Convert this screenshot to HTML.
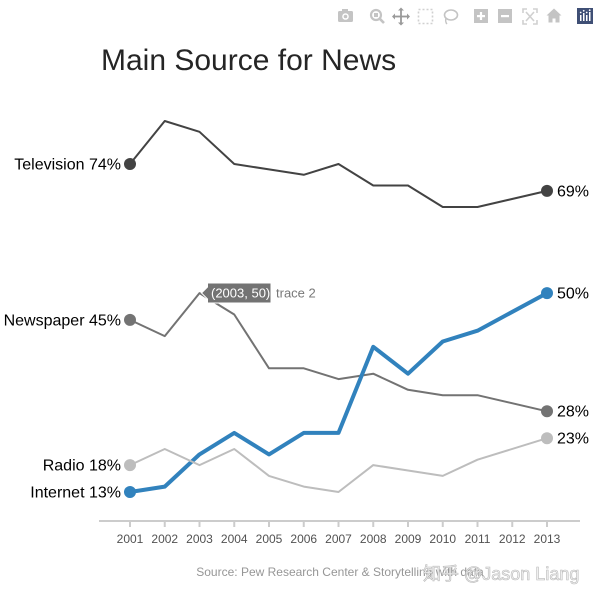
<!DOCTYPE html>
<html>
<head>
<meta charset="utf-8">
<style>
html,body{margin:0;padding:0;background:#fff;}
svg{display:block;}
text{font-family:"Liberation Sans",Arial,"Noto Sans CJK SC",sans-serif;}
</style>
</head>
<body>
<svg width="600" height="601" viewBox="0 0 600 601" xmlns="http://www.w3.org/2000/svg">
  <rect width="600" height="601" fill="#fff"/>

  <!-- modebar -->
  <g fill="#c4c4c4" stroke="none">
    <!-- camera -->
    <rect x="338" y="11" width="15" height="11" rx="1.5"/>
    <rect x="342" y="9" width="6" height="3"/>
    <circle cx="345.5" cy="16.5" r="3.3" fill="#fff"/>
    <circle cx="345.5" cy="16.5" r="1.8"/>
    <!-- zoom -->
    <circle cx="376" cy="15" r="5" fill="none" stroke="#c4c4c4" stroke-width="2.2"/>
    <rect x="374" y="13" width="4" height="4"/>
    <line x1="379.5" y1="18.5" x2="384" y2="23" stroke="#c4c4c4" stroke-width="2.6"/>
    <!-- pan -->
    <g stroke="#9a9a9a" stroke-width="1.8">
      <line x1="401" y1="9" x2="401" y2="24"/>
      <line x1="393.5" y1="16.5" x2="408.5" y2="16.5"/>
    </g>
    <path d="M401 7.5l-3 3h6z M401 25.5l-3-3h6z M392 16.5l3-3v6z M410 16.5l-3-3v6z" fill="#9a9a9a"/>
    <!-- box select -->
    <rect x="418.5" y="9.5" width="14" height="14" fill="none" stroke="#d0d0d0" stroke-width="1.6" stroke-dasharray="2,2"/>
    <!-- lasso -->
    <ellipse cx="451" cy="15" rx="6.5" ry="5" fill="none" stroke="#c4c4c4" stroke-width="1.6"/>
    <path d="M446 18 q-1 4 1 6" fill="none" stroke="#c4c4c4" stroke-width="1.4"/>
    <!-- zoom in -->
    <rect x="474" y="9" width="14" height="14"/>
    <rect x="477" y="15" width="8" height="2.2" fill="#fff"/>
    <rect x="479.9" y="12" width="2.2" height="8" fill="#fff"/>
    <!-- zoom out -->
    <rect x="498" y="9" width="14" height="14"/>
    <rect x="501" y="15" width="8" height="2.2" fill="#fff"/>
    <!-- autoscale -->
    <g fill="none" stroke="#d0d0d0" stroke-width="1.6">
      <path d="M523 13v-4h4 M533 9h4v4 M537 20v4h-4 M527 24h-4v-4"/>
      <path d="M526 12l8 9 M534 12l-8 9"/>
    </g>
    <!-- home -->
    <path d="M554 8.5l-7.5 7h2v7h4v-4h3v4h4v-7h2z"/>
    <!-- plotly logo -->
    <rect x="577" y="8" width="16" height="16" fill="#3f4f75"/>
    <g fill="#fff">
      <rect x="580" y="15" width="1.5" height="6"/>
      <rect x="583" y="13" width="1.5" height="8"/>
      <rect x="586" y="15" width="1.5" height="6"/>
      <rect x="589" y="12" width="1.5" height="9"/>
      <circle cx="580.7" cy="12.5" r="0.9"/>
      <circle cx="583.7" cy="10.8" r="0.9"/>
      <circle cx="586.7" cy="12.5" r="0.9"/>
      <circle cx="589.7" cy="10.2" r="0.9"/>
    </g>
  </g>

  <!-- title -->
  <text x="101" y="70" font-size="30" fill="rgb(37,37,37)">Main Source for News</text>

  <!-- x axis -->
  <line x1="99" y1="521" x2="580" y2="521" stroke="rgb(204,204,204)" stroke-width="2"/>
  <g stroke="rgb(204,204,204)" stroke-width="2">
    <line x1="130" y1="521" x2="130" y2="527"/>
    <line x1="164.75" y1="521" x2="164.75" y2="527"/>
    <line x1="199.5" y1="521" x2="199.5" y2="527"/>
    <line x1="234.25" y1="521" x2="234.25" y2="527"/>
    <line x1="269" y1="521" x2="269" y2="527"/>
    <line x1="303.75" y1="521" x2="303.75" y2="527"/>
    <line x1="338.5" y1="521" x2="338.5" y2="527"/>
    <line x1="373.25" y1="521" x2="373.25" y2="527"/>
    <line x1="408" y1="521" x2="408" y2="527"/>
    <line x1="442.75" y1="521" x2="442.75" y2="527"/>
    <line x1="477.5" y1="521" x2="477.5" y2="527"/>
    <line x1="512.25" y1="521" x2="512.25" y2="527"/>
    <line x1="547" y1="521" x2="547" y2="527"/>
  </g>
  <g font-size="12" fill="rgb(82,82,82)" text-anchor="middle">
    <text x="130" y="543">2001</text>
    <text x="164.75" y="543">2002</text>
    <text x="199.5" y="543">2003</text>
    <text x="234.25" y="543">2004</text>
    <text x="269" y="543">2005</text>
    <text x="303.75" y="543">2006</text>
    <text x="338.5" y="543">2007</text>
    <text x="373.25" y="543">2008</text>
    <text x="408" y="543">2009</text>
    <text x="442.75" y="543">2010</text>
    <text x="477.5" y="543">2011</text>
    <text x="512.25" y="543">2012</text>
    <text x="547" y="543">2013</text>
  </g>

  <!-- Television -->
  <polyline fill="none" stroke="rgb(67,67,67)" stroke-width="2" stroke-linejoin="round"
    points="130,164 164.75,121 199.5,131.8 234.25,164 269,169.4 303.75,174.8 338.5,164 373.25,185.5 408,185.5 442.75,207 477.5,207 547,190.9"/>
  <circle cx="130" cy="164" r="6" fill="rgb(67,67,67)"/>
  <circle cx="547" cy="190.9" r="6" fill="rgb(67,67,67)"/>

  <!-- Newspaper -->
  <polyline fill="none" stroke="rgb(115,115,115)" stroke-width="2" stroke-linejoin="round"
    points="130,319.9 164.75,336.1 199.5,293.1 234.25,314.5 269,368.3 303.75,368.3 338.5,379.1 373.25,373.7 408,389.8 442.75,395.2 477.5,395.2 547,411.3"/>
  <circle cx="130" cy="319.9" r="6" fill="rgb(115,115,115)"/>
  <circle cx="547" cy="411.3" r="6" fill="rgb(115,115,115)"/>

  <!-- Internet -->
  <polyline fill="none" stroke="rgb(49,130,189)" stroke-width="4" stroke-linejoin="round"
    points="130,492 164.75,486.6 199.5,454.4 234.25,432.9 269,454.4 303.75,432.9 338.5,432.9 373.25,346.8 408,373.7 442.75,341.5 477.5,330.7 547,293.1"/>
  <circle cx="130" cy="492" r="6" fill="rgb(49,130,189)"/>
  <circle cx="547" cy="293.1" r="6" fill="rgb(49,130,189)"/>

  <!-- Radio -->
  <polyline fill="none" stroke="rgb(189,189,189)" stroke-width="2" stroke-linejoin="round"
    points="130,465.1 164.75,449 199.5,465.1 234.25,449 269,475.9 303.75,486.6 338.5,492 373.25,465.1 408,470.5 442.75,475.9 477.5,459.7 547,438.2"/>
  <circle cx="130" cy="465.1" r="6" fill="rgb(189,189,189)"/>
  <circle cx="547" cy="438.2" r="6" fill="rgb(189,189,189)"/>

  <!-- labels -->
  <g font-size="16" fill="#000">
    <g text-anchor="end">
      <text x="121" y="169.5">Television 74%</text>
      <text x="121" y="325.5">Newspaper 45%</text>
      <text x="121" y="470.5">Radio 18%</text>
      <text x="121" y="497.5">Internet 13%</text>
    </g>
    <text x="557" y="196.5">69%</text>
    <text x="557" y="298.5">50%</text>
    <text x="557" y="416.5">28%</text>
    <text x="557" y="443.5">23%</text>
  </g>

  <!-- hover label -->
  <path d="M201.5,293 L207.5,287 V283 H271 V303 H207.5 V299 Z" fill="rgb(115,115,115)" stroke="#fff" stroke-width="1"/>
  <text x="211" y="297.5" font-size="13" fill="#fff">(2003, 50)</text>
  <text x="276" y="297.5" font-size="13" fill="rgb(120,120,120)">trace 2</text>

  <!-- source -->
  <text x="340" y="576" font-size="12" fill="rgb(150,150,150)" text-anchor="middle">Source: Pew Research Center &amp; Storytelling with data</text>
  <!-- watermark -->
  <text x="423" y="580" font-size="18" fill="#f2f2f2" stroke="#b8b8b8" stroke-width="0.6" font-family="'Liberation Sans','Noto Sans CJK SC',sans-serif">知乎 @Jason Liang</text>
</svg>
</body>
</html>
